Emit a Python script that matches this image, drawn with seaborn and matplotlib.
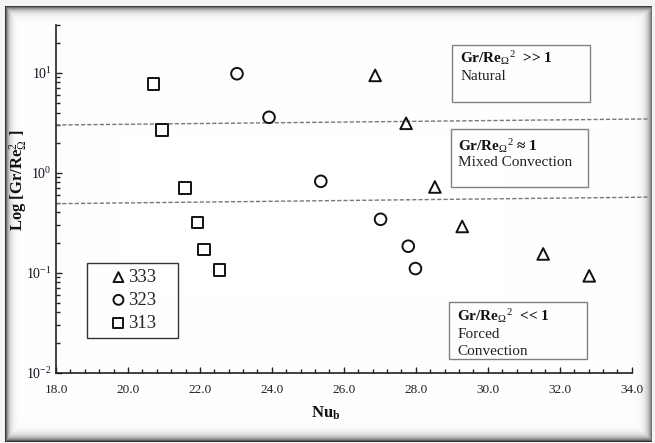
import numpy as np
import pandas as pd
import matplotlib
matplotlib.use("Agg")
import matplotlib.pyplot as plt
import seaborn as sns
from matplotlib.patches import Rectangle
from matplotlib.ticker import LogLocator, MultipleLocator, FormatStrFormatter, NullFormatter

# Nusselt number vs Gr/Re_Omega^2 for three wall temperatures (K)
nu_333 = [26.87, 27.73, 28.53, 29.29, 31.54, 32.82]
ri_333 = [9.4, 3.12, 0.72, 0.29, 0.154, 0.093]
nu_323 = [23.03, 23.92, 25.36, 27.02, 27.79, 27.99]
ri_323 = [9.77, 3.58, 0.82, 0.342, 0.184, 0.110]
nu_313 = [20.71, 20.95, 21.58, 21.93, 22.11, 22.54]
ri_313 = [7.66, 2.67, 0.708, 0.319, 0.171, 0.107]

series_labels = ["333", "323", "313"]
series_markers = ["^", "o", "s"]

# regime boundaries (dashed)
boundary_nu = [18.0, 34.5]
boundary_upper = [3.0, 3.45]
boundary_lower = [0.49, 0.57]

x_range = [18.0, 34.0]
y_range = [0.01, 30.0]

regime_titles = [r"Gr/Re$_{\Omega}$$^{2}$  >> 1", r"Gr/Re$_{\Omega}$$^{2}$ ≈ 1", r"Gr/Re$_{\Omega}$$^{2}$  << 1"]
regime_names = [["Natural"], ["Mixed Convection"], ["Forced", "Convection"]]

sns.set_style("ticks")
plt.rcParams["font.family"] = ["Liberation Serif", "DejaVu Serif"]
plt.rcParams["mathtext.fontset"] = "custom"
plt.rcParams["mathtext.rm"] = "Liberation Serif"
plt.rcParams["mathtext.it"] = "Liberation Serif:italic"
plt.rcParams["mathtext.bf"] = "Liberation Serif:bold"

W, H = 655, 443
fig = plt.figure(figsize=(W / 100, H / 100), dpi=100)
fig.patch.set_facecolor("white")

# bevelled panel behind the chart
yy, xx = np.mgrid[0:H, 0:W].astype(float)
x0, x1, y0, y1 = 5, 651, 6, 441
inside = (xx >= x0) & (xx <= x1) & (yy >= y0) & (yy <= y1)
dark = np.maximum.reduce([
    0.80 * np.exp(-np.clip(xx - x0, 0, None) / 3.0),
    0.75 * np.exp(-np.clip(yy - y0, 0, None) / 3.5),
    0.55 * np.exp(-np.clip(x1 - xx, 0, None) / 4.0),
    0.80 * np.exp(-np.clip(y1 - yy, 0, None) / 4.0),
])
val = np.where(inside, 1.0 - dark, 0.96)
img = np.dstack([val, val, val])
fig.figimage(img, xo=0, yo=0, origin="upper", zorder=-10)


def fx(px):
    return px / W


def fy(py):
    return 1 - py / H


ax = fig.add_axes([fx(56), fy(372.7), (631.7 - 56) / W, (372.7 - 25) / H])
ax.set_facecolor("none")

df = pd.DataFrame({
    "Nu": nu_333 + nu_323 + nu_313,
    "Ri": ri_333 + ri_323 + ri_313,
    "T": ["333"] * len(nu_333) + ["323"] * len(nu_323) + ["313"] * len(nu_313),
})

for lab, mk in zip(series_labels, series_markers):
    sub = df[df["T"] == lab]
    sns.scatterplot(data=sub, x="Nu", y="Ri", marker=mk, s=70,
                    facecolors="none", edgecolor="#111111", linewidth=1.4,
                    label=lab, ax=ax, zorder=3, legend=True)

for yb in (boundary_upper, boundary_lower):
    ax.plot(boundary_nu, yb, color="#777777", lw=1.0, ls=(0, (3, 1.5)),
            clip_on=False, zorder=2)

ax.set_yscale("log")
ax.set_xlim(*x_range)
ax.set_ylim(*y_range)

ax.xaxis.set_major_locator(MultipleLocator(2.0))
ax.xaxis.set_minor_locator(MultipleLocator(0.4))
ax.xaxis.set_major_formatter(FormatStrFormatter("%.1f"))
ax.yaxis.set_major_locator(LogLocator(base=10, numticks=10))
ax.yaxis.set_minor_locator(LogLocator(base=10, subs=np.arange(2, 10), numticks=20))
ax.yaxis.set_minor_formatter(NullFormatter())

ax.tick_params(axis="both", which="both", direction="in", color="#222222", width=1.0)
ax.tick_params(axis="x", which="major", length=4, pad=8, labelsize=9.5, labelcolor="#222222")
ax.tick_params(axis="x", which="minor", length=3)
ax.tick_params(axis="y", which="major", length=4, pad=3, labelsize=10, labelcolor="#111122")
ax.tick_params(axis="y", which="minor", length=3)

for side in ("top", "right"):
    ax.spines[side].set_visible(False)
for side in ("left", "bottom"):
    ax.spines[side].set_color("#222222")
    ax.spines[side].set_linewidth(1.2)

ax.set_xlabel(r"Nu$_{\mathbf{b}}$", fontsize=12, fontweight="bold", color="#111111")
ax.xaxis.set_label_coords(0.469, -0.092)
ax.set_ylabel(r"Log [Gr/Re$_{\Omega}^{2}$ ]", fontsize=12, fontweight="bold", color="#111111")
ax.yaxis.set_label_coords(-0.045, 0.554)

# legend inside its own frame
handles, labels = ax.get_legend_handles_labels()
order = [labels.index(l) for l in series_labels]
leg = ax.legend([handles[i] for i in order], [labels[i] for i in order],
                loc="center", bbox_to_anchor=(fx(132.5), fy(300.2)),
                bbox_transform=fig.transFigure, frameon=False,
                handletextpad=0.0, handlelength=1.0, labelspacing=0.3,
                borderpad=0.2, markerscale=0.85,
                prop={"family": "Liberation Serif", "size": 13.5})
fig.patches.append(Rectangle((fx(86.7), fy(337.7)), (178.3 - 86.7) / W, (337.7 - 262.7) / H,
                             transform=fig.transFigure, fill=False,
                             edgecolor="#333333", lw=1.0))

# regime annotation boxes
boxes = [(452, 44.7, 590, 102), (450.7, 129.3, 587.7, 186.7), (449, 301.7, 587.3, 359)]
text_x = [460.5, 458.3, 457.3]
title_y = [58.3, 146, 316]
line_y = [[76], [162.7], [334, 351.7]]
for (bx0, by0, bx1, by1), tx, ty, lys, title, names in zip(boxes, text_x, title_y, line_y,
                                                           regime_titles, regime_names):
    fig.patches.append(Rectangle((fx(bx0), fy(by1)), (bx1 - bx0) / W, (by1 - by0) / H,
                                 transform=fig.transFigure, fill=False,
                                 edgecolor="#808080", lw=1.0))
    fig.text(fx(tx), fy(ty), title, fontsize=11, fontweight="bold", ha="left",
             va="center", color="#111111")
    for ly, name in zip(lys, names):
        fig.text(fx(tx), fy(ly), name, fontsize=11, ha="left", va="center", color="#222222")

fig.savefig("out.png", dpi=100)
